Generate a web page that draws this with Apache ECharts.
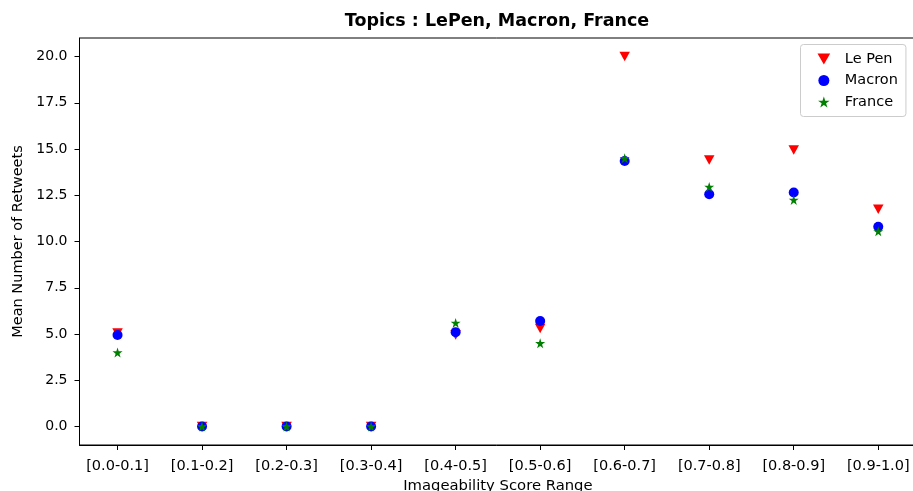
<!DOCTYPE html>
<html>
<head>
<meta charset="utf-8">
<script src="https://cdn.jsdelivr.net/npm/echarts@6/dist/echarts.min.js"></script>
<style>
  html, body { margin: 0; padding: 0; background: #fff; }
  #chart { width: 913px; height: 491px; }
</style>
</head>
<body>
<div id="chart"></div>
<script>
// Score ranges on the x axis
const categories = ['[0.0-0.1]', '[0.1-0.2]', '[0.2-0.3]', '[0.3-0.4]', '[0.4-0.5]',
                    '[0.5-0.6]', '[0.6-0.7]', '[0.7-0.8]', '[0.8-0.9]', '[0.9-1.0]'];

// Mean number of retweets per range, one array per topic
const lePen  = [5.05, 0.0, 0.0, 0.0, 4.95, 5.3, 20.0, 14.4, 14.95, 11.75];
const macron = [4.95, 0.0, 0.0, 0.0, 5.1, 5.7, 14.35, 12.55, 12.65, 10.8];
const france = [4.0, 0.0, 0.0, 0.0, 5.6, 4.5, 14.5, 12.95, 12.25, 10.55];

const yTicks = [0, 2.5, 5, 7.5, 10, 12.5, 15, 17.5, 20];

const FONT = 'DejaVu Sans';
const TRI_DOWN = 'path://M0,0 L2,0 L1,1.732 Z';
const STAR = 'path://M1,0 L1.2245,0.691 L1.951,0.691 L1.363,1.118 L1.588,1.809 L1,1.382 L0.412,1.809 L0.637,1.118 L0.049,0.691 L0.7755,0.691 Z';

const toPoints = arr => arr.map((v, i) => [i, v]);
const xTicks = categories.map((_, i) => i);

const chart = echarts.init(document.getElementById('chart'), null, { renderer: 'canvas' });

chart.setOption({
  animation: false,
  backgroundColor: '#ffffff',
  textStyle: { fontFamily: FONT },
  title: {
    text: 'Topics : LePen, Macron, France',
    left: 497,
    top: 12.5,
    textAlign: 'center',
    padding: 0,
    textStyle: { fontFamily: FONT, fontSize: 17.5, fontWeight: 'bold', color: '#000' }
  },
  grid: {
    left: 79.5,
    right: -3.3,
    top: 38,
    bottom: 46,
    show: true,
    borderColor: '#000',
    borderWidth: 1,
    containLabel: false,
    outerBoundsMode: 'none'
  },
  legend: {
    orient: 'vertical',
    left: 800.5,
    top: 44.5,
    padding: [7, 8, 7, 17],
    itemWidth: 32,
    itemHeight: 11,
    itemGap: 6.5,
    backgroundColor: '#fff',
    borderColor: '#cccccc',
    borderWidth: 1,
    borderRadius: 3,
    textStyle: { fontFamily: FONT, fontSize: 14.5, color: '#000', lineHeight: 13.5 },
    data: ['Le Pen', 'Macron', 'France']
  },
  xAxis: {
    type: 'value',
    min: -0.45,
    max: 9.45,
    name: 'Imageability Score Range',
    nameLocation: 'middle',
    nameGap: 33,
    nameTextStyle: { fontFamily: FONT, fontSize: 14.8, color: '#000' },
    axisLine: { show: true, onZero: false, lineStyle: { color: '#000', width: 1 } },
    axisTick: { show: true, length: 5, lineStyle: { color: '#000' }, customValues: xTicks },
    axisLabel: {
      show: true,
      margin: 13.5,
      customValues: xTicks,
      fontFamily: FONT,
      fontSize: 14.5,
      color: '#000',
      formatter: v => categories[Math.round(v)] || ''
    },
    splitLine: { show: false }
  },
  yAxis: {
    type: 'value',
    min: -1,
    max: 21,
    name: 'Mean Number of Retweets',
    nameLocation: 'middle',
    nameGap: 54,
    nameTextStyle: { fontFamily: FONT, fontSize: 14.5, color: '#000' },
    axisLine: { show: true, onZero: false, lineStyle: { color: '#000', width: 1 } },
    axisTick: { show: true, length: 5, lineStyle: { color: '#000' }, customValues: yTicks },
    axisLabel: {
      show: true,
      margin: 12,
      customValues: yTicks,
      fontFamily: FONT,
      fontSize: 14,
      color: '#000',
      formatter: v => v.toFixed(1)
    },
    splitLine: { show: false }
  },
  series: [
    {
      name: 'Le Pen',
      type: 'scatter',
      symbol: TRI_DOWN,
      symbolSize: [10.5, 9.5],
      itemStyle: { color: '#ff0000', opacity: 1 },
      data: toPoints(lePen)
    },
    {
      name: 'Macron',
      type: 'scatter',
      symbol: 'circle',
      symbolSize: 10,
      itemStyle: { color: '#0000ff', opacity: 1 },
      data: toPoints(macron)
    },
    {
      name: 'France',
      type: 'scatter',
      symbol: STAR,
      symbolSize: [10, 10],
      itemStyle: { color: '#008000', opacity: 1 },
      data: toPoints(france)
    }
  ]
});
</script>
</body>
</html>
